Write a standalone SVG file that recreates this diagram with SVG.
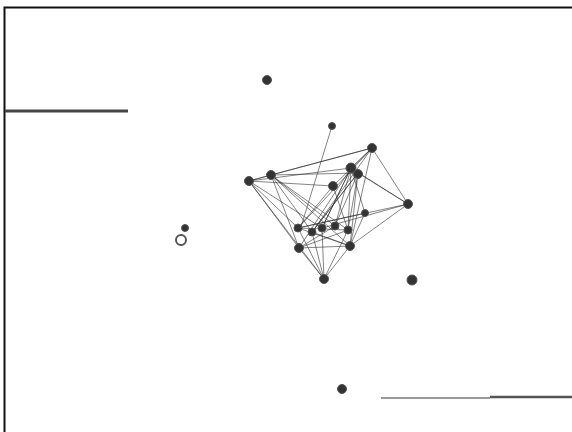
<svg xmlns="http://www.w3.org/2000/svg" width="572" height="432" viewBox="0 0 572 432">
<style>
.n{fill:#333;stroke:#555;stroke-width:1}
.e{stroke:#222;stroke-width:0.7;fill:none;opacity:0.8}
</style>
<rect width="572" height="432" fill="#fff"/>
<path d="M4.5 432V7.5H572" fill="none" stroke="#111" stroke-width="2"/>
<line x1="5" y1="111" x2="128" y2="111" stroke="#444" stroke-width="3"/>
<line x1="381" y1="398" x2="490" y2="398" stroke="#777" stroke-width="1.5"/>
<line x1="490" y1="397" x2="572" y2="397" stroke="#555" stroke-width="2.5"/>
<g id="edges">
<path class="e" d="M249 181L372 148M271 175L372 148M249 181L351 168M271 175L358 173M249 181L333 186M249 181L299 248M249 181L324 279M249 181L298 228M249 181L322 228M271 175L299 248M271 175L312 232M271 175L335 226M271 175L348 230M271 175L350 246M372 148L408 204M372 148L351 168M372 148L333 186M372 148L350 246M372 148L312 232M372 148L298 228M351 168L408 204M358 173L408 204M408 204L298 228M408 204L350 246M408 204L322 228M332 126L300 230M333 186L298 228M333 186L348 230M351 168L299 248M351 168L322 228M358 173L312 232M358 173L335 226M358 173L350 246M351 168L348 230M299 248L324 279M350 246L324 279M299 248L350 246M298 228L324 279M322 228L324 279M348 230L324 279M298 228L348 230M312 232L350 246M335 226L299 248M298 228L350 246M312 232L358 173M322 228L351 168M335 226L351 168M348 230L358 173M365 213L298 228M365 213L351 168M365 213L350 246M249 181L271 175M299 248L348 230M312 232L324 279"/>
</g>
<g id="nodes">
<circle id="n1" class="n" cx="267" cy="80" r="4.5"/>
<circle id="n2" class="n" cx="332" cy="126" r="3.5"/>
<circle id="n3" class="n" cx="372" cy="148" r="4.5"/>
<circle id="n4" class="n" cx="249" cy="181" r="4.5"/>
<circle id="n5" class="n" cx="271" cy="175" r="4.5"/>
<circle id="n6" class="n" cx="351" cy="168" r="5"/>
<circle id="n7" class="n" cx="358" cy="174" r="4.5"/>
<circle id="n8" class="n" cx="333" cy="186" r="4.5"/>
<circle id="n9" class="n" cx="408" cy="204" r="4.5"/>
<circle id="n10" class="n" cx="365" cy="213" r="3.5"/>
<circle id="n11" class="n" cx="298" cy="228" r="4"/>
<circle id="n12" class="n" cx="312" cy="232" r="4"/>
<circle id="n13" class="n" cx="322" cy="228" r="4"/>
<circle id="n14" class="n" cx="335" cy="226" r="4"/>
<circle id="n15" class="n" cx="348" cy="230" r="4"/>
<circle id="n16" class="n" cx="299" cy="248" r="4.5"/>
<circle id="n17" class="n" cx="350" cy="246" r="4.5"/>
<circle id="n18" class="n" cx="324" cy="279" r="4.5"/>
<circle id="n19" class="n" cx="412" cy="280" r="5"/>
<circle id="n20" class="n" cx="185" cy="228" r="3.5"/>
<circle id="n21" cx="181" cy="240" r="5" fill="#fff" stroke="#555" stroke-width="2"/>
<circle id="n22" class="n" cx="342" cy="389" r="4.5"/>
</g>
</svg>
